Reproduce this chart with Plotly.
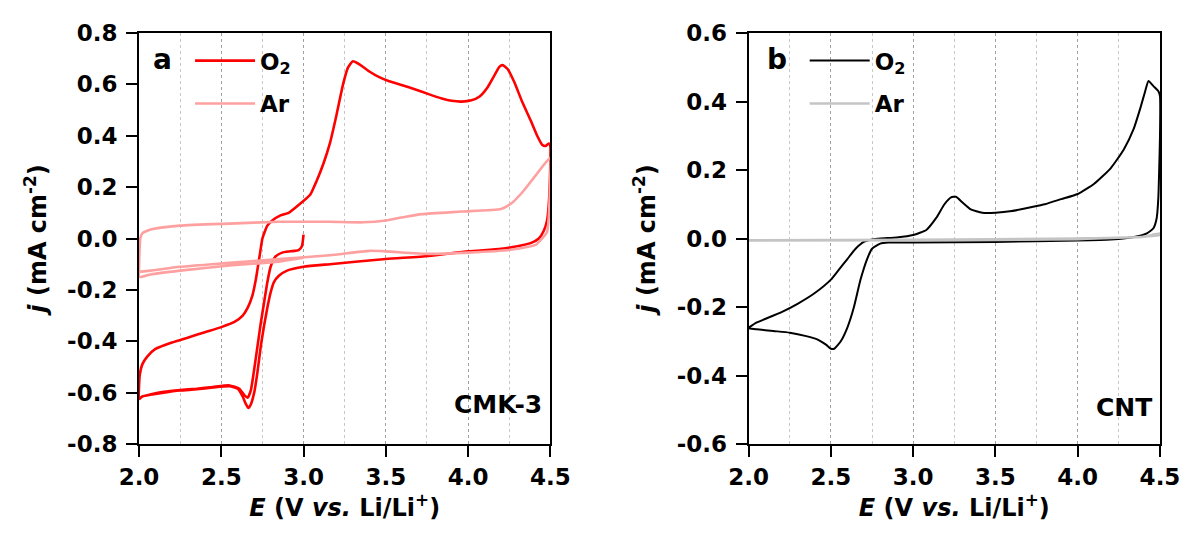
import plotly.graph_objects as go
from plotly.subplots import make_subplots

# ---------------- Panel a (CMK-3) ----------------
a_o2_E = [3.00, 2.99, 2.97, 2.92, 2.87, 2.83, 2.80, 2.78, 2.76, 2.74, 2.72, 2.70, 2.68, 2.66, 2.64, 2.61,
          2.55, 2.45, 2.35, 2.25, 2.15, 2.08, 2.02, 2.00,
          2.00, 2.005, 2.02, 2.05, 2.10, 2.20, 2.30, 2.40, 2.50, 2.58, 2.63, 2.66, 2.69, 2.71, 2.72, 2.735,
          2.75, 2.78, 2.81, 2.86, 2.91, 2.97, 3.04, 3.08, 3.12, 3.16, 3.20, 3.24, 3.27, 3.30, 3.34, 3.40,
          3.46, 3.52, 3.60, 3.68, 3.76, 3.84, 3.90, 3.96, 4.02, 4.07, 4.12, 4.16, 4.19, 4.21, 4.24, 4.28,
          4.33, 4.38, 4.42, 4.45, 4.47, 4.49, 4.50,
          4.50, 4.497, 4.49, 4.48, 4.46, 4.43, 4.38, 4.30, 4.20, 4.00, 3.76, 3.50, 3.16, 3.00, 2.90, 2.85,
          2.82, 2.80, 2.78, 2.76, 2.74, 2.72, 2.70, 2.68, 2.665, 2.65, 2.63, 2.60, 2.55, 2.45, 2.35, 2.25,
          2.15, 2.08, 2.02, 2.00]
a_o2_j = [0.015, -0.03, -0.045, -0.05, -0.055, -0.07, -0.11, -0.17, -0.25, -0.33, -0.42, -0.51, -0.59, -0.62, -0.61, -0.585,
          -0.572, -0.578, -0.585, -0.59, -0.597, -0.605, -0.615, -0.625,
          -0.58, -0.53, -0.49, -0.46, -0.43, -0.405, -0.385, -0.365, -0.345, -0.325, -0.30, -0.27, -0.22, -0.16, -0.12, -0.06,
          0.0, 0.05, 0.07, 0.09, 0.10, 0.13, 0.17, 0.225, 0.29, 0.37, 0.48, 0.60, 0.665, 0.69, 0.678, 0.65,
          0.628, 0.612, 0.597, 0.58, 0.562, 0.545, 0.536, 0.533, 0.538, 0.553, 0.59, 0.635, 0.668, 0.675, 0.66, 0.61,
          0.53, 0.46, 0.40, 0.365, 0.36, 0.37, 0.36,
          0.30, 0.22, 0.13, 0.07, 0.03, 0.0, -0.018, -0.03, -0.04, -0.05, -0.068, -0.08, -0.10, -0.11, -0.125, -0.145,
          -0.17, -0.21, -0.27, -0.34, -0.42, -0.52, -0.60, -0.645, -0.66, -0.645, -0.615, -0.585, -0.575, -0.58, -0.587, -0.592,
          -0.60, -0.607, -0.615, -0.625]

a_ar_E = [3.00, 2.85, 2.55, 2.25, 2.07, 2.00,
          2.00, 2.003, 2.008, 2.02, 2.07, 2.25, 2.55, 2.85, 3.16, 3.36, 3.50, 3.62, 3.72, 3.96, 4.20, 4.26,
          4.33, 4.41, 4.50,
          4.50, 4.495, 4.49, 4.48, 4.45, 4.41, 4.25, 4.00, 3.76, 3.50, 3.40, 3.16, 2.85, 2.55, 2.25, 2.07, 2.00]
a_ar_j = [-0.075, -0.09, -0.105, -0.125, -0.14, -0.15,
          -0.12, -0.05, 0.0, 0.02, 0.035, 0.05, 0.058, 0.065, 0.065, 0.063, 0.07, 0.085, 0.095, 0.105, 0.115, 0.135,
          0.18, 0.245, 0.315,
          0.25, 0.15, 0.08, 0.025, 0.0, -0.025, -0.045, -0.055, -0.06, -0.05, -0.048, -0.065, -0.08, -0.095, -0.11, -0.125, -0.13]

# ---------------- Panel b (CNT) ----------------
b_o2_E = [2.00, 2.05, 2.10, 2.20, 2.30, 2.40, 2.50, 2.55, 2.60, 2.65, 2.70, 2.75, 2.80, 2.90, 3.00, 3.08,
          3.14, 3.19, 3.23, 3.26, 3.30, 3.35, 3.42, 3.50, 3.60, 3.70, 3.80, 3.90, 4.00, 4.10, 4.20, 4.28,
          4.34, 4.38, 4.41, 4.43, 4.46, 4.49, 4.50,
          4.50, 4.495, 4.49, 4.48, 4.46, 4.42, 4.35, 4.20, 4.00, 3.50, 3.00, 2.85, 2.80, 2.75, 2.72, 2.68,
          2.64, 2.60, 2.56, 2.52, 2.50, 2.47, 2.42, 2.35, 2.25, 2.15, 2.05, 2.00]
b_o2_j = [-0.26, -0.245, -0.235, -0.215, -0.19, -0.16, -0.12, -0.09, -0.06, -0.03, -0.01, -0.003, 0.0, 0.003, 0.01, 0.025,
          0.06, 0.10, 0.12, 0.122, 0.105, 0.085, 0.075, 0.075, 0.08, 0.09, 0.10, 0.115, 0.13, 0.16, 0.205, 0.26,
          0.32, 0.38, 0.43, 0.46, 0.445, 0.43, 0.415,
          0.30, 0.20, 0.12, 0.06, 0.03, 0.015, 0.005, -0.003, -0.006, -0.01, -0.012, -0.012, -0.015, -0.03, -0.06, -0.12,
          -0.20, -0.26, -0.30, -0.322, -0.322, -0.31, -0.295, -0.285, -0.275, -0.27, -0.265, -0.262]

b_ar_E = [2.00, 3.00, 4.00, 4.40, 4.50, 4.50, 4.00, 3.00, 2.00]
b_ar_j = [-0.005, -0.004, 0.0, 0.005, 0.015, 0.01, -0.002, -0.005, -0.006]

# ---------------- Axis ticks ----------------
x_tickvals = [2.0, 2.5, 3.0, 3.5, 4.0, 4.5]
x_ticktext = ["2.0", "2.5", "3.0", "3.5", "4.0", "4.5"]
a_y_tickvals = [-0.8, -0.6, -0.4, -0.2, 0.0, 0.2, 0.4, 0.6, 0.8]
a_y_ticktext = ["-0.8", "-0.6", "-0.4", "-0.2", "0.0", "0.2", "0.4", "0.6", "0.8"]
b_y_tickvals = [-0.6, -0.4, -0.2, 0.0, 0.2, 0.4, 0.6]
b_y_ticktext = ["-0.6", "-0.4", "-0.2", "0.0", "0.2", "0.4", "0.6"]

FONT = "DejaVu Sans, Arial, sans-serif"
SPLINE = dict(shape="spline", smoothing=0.5)

fig = make_subplots(rows=1, cols=2, horizontal_spacing=0.1942)

fig.add_trace(go.Scatter(x=a_o2_E, y=a_o2_j, mode="lines", name="O<sub>2</sub>",
                         line=dict(color="#FF0000", width=2.6, **SPLINE), legend="legend", legendgroup="a1"), 1, 1)
fig.add_trace(go.Scatter(x=a_ar_E, y=a_ar_j, mode="lines", name="Ar",
                         line=dict(color="#FFA0A0", width=2.6, **SPLINE), legend="legend", legendgroup="a2"), 1, 1)
fig.add_trace(go.Scatter(x=b_o2_E, y=b_o2_j, mode="lines", name="O<sub>2</sub>",
                         line=dict(color="#000000", width=2.0, **SPLINE), legend="legend2", legendgroup="b1"), 1, 2)
fig.add_trace(go.Scatter(x=b_ar_E, y=b_ar_j, mode="lines", name="Ar",
                         line=dict(color="#C4C4C4", width=2.6, **SPLINE), legend="legend2", legendgroup="b2"), 1, 2)

xcommon = dict(range=[2.0, 4.5], tickvals=x_tickvals, ticktext=x_ticktext,
               ticks="outside", ticklen=11, tickwidth=2, tickcolor="black",
               showline=True, linewidth=2, linecolor="black", mirror=True,
               showgrid=True, gridcolor="#A0A0A0", griddash="dot", gridwidth=1,
               minor=dict(dtick=0.25, tick0=2.0, showgrid=True, gridcolor="#C8C8C8", griddash="dot", gridwidth=1),
               zeroline=False,
               tickfont=dict(family=FONT, size=23, color="black", weight="bold"),
               title=dict(text="<i>E</i> (V <i>vs.</i> Li/Li<sup>+</sup>)",
                          font=dict(family=FONT, size=24, color="black", weight="bold"), standoff=6))
ycommon = dict(ticks="outside", ticklen=11, tickwidth=2, tickcolor="black",
               showline=True, linewidth=2, linecolor="black", mirror=True,
               showgrid=False, zeroline=False, ticklabelstandoff=4,
               tickfont=dict(family=FONT, size=23, color="black", weight="bold"),
               title=dict(text="<i>j</i> (mA cm<sup>-2</sup>)",
                          font=dict(family=FONT, size=24, color="black", weight="bold"), standoff=14))

fig.update_xaxes(**xcommon)
fig.update_yaxes(**ycommon)
fig.update_yaxes(range=[-0.8, 0.8], tickvals=a_y_tickvals, ticktext=a_y_ticktext, row=1, col=1)
fig.update_yaxes(range=[-0.6, 0.6], tickvals=b_y_tickvals, ticktext=b_y_ticktext, row=1, col=2)

legfont = dict(family=FONT, size=23, color="black", weight="bold")
fig.update_layout(
    width=1184, height=526,
    paper_bgcolor="white", plot_bgcolor="white",
    margin=dict(l=131, r=28, t=21, b=90),
    legend=dict(x=0.05, y=0.985, xanchor="left", yanchor="top", bgcolor="rgba(0,0,0,0)",
                font=legfont, tracegroupgap=10, itemwidth=60),
    legend2=dict(x=0.652, y=0.985, xanchor="left", yanchor="top", bgcolor="rgba(0,0,0,0)",
                 font=legfont, tracegroupgap=10, itemwidth=60),
    annotations=[
        dict(text="a", x=0.03, y=0.935, xref="x domain", yref="y domain", showarrow=False,
             xanchor="left", yanchor="middle", font=dict(family=FONT, size=28, color="black", weight="bold")),
        dict(text="b", x=0.04, y=0.935, xref="x2 domain", yref="y2 domain", showarrow=False,
             xanchor="left", yanchor="middle", font=dict(family=FONT, size=28, color="black", weight="bold")),
        dict(text="CMK-3", x=0.985, y=0.095, xref="x domain", yref="y domain", showarrow=False,
             xanchor="right", yanchor="middle", font=dict(family=FONT, size=25, color="black", weight="bold")),
        dict(text="CNT", x=0.985, y=0.09, xref="x2 domain", yref="y2 domain", showarrow=False,
             xanchor="right", yanchor="middle", font=dict(family=FONT, size=25, color="black", weight="bold")),
    ],
)

fig.write_html("out.html")
